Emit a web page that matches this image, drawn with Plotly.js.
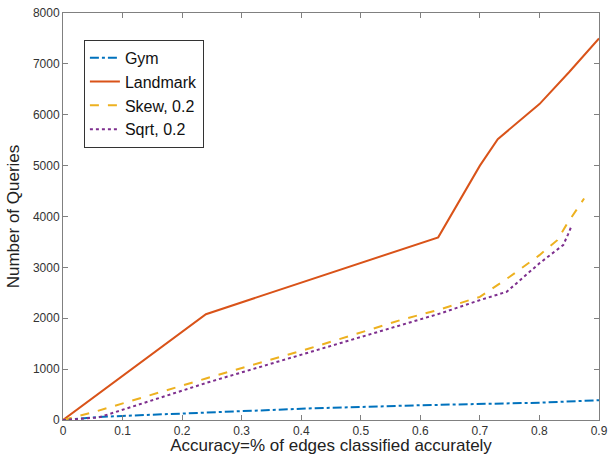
<!DOCTYPE html>
<html>
<head>
<meta charset="utf-8">
<script src="https://cdn.plot.ly/plotly-3.0.1.min.js"></script>
<style>html,body{margin:0;padding:0;background:#fff}#chart{width:611px;height:455px}</style>
</head>
<body>
<div id="chart"></div>
<script>
const gymX = [0, 0.06, 0.1, 0.24, 0.42, 0.6, 0.8, 0.9];
const gymY = [0, 60, 80, 150, 230, 290, 340, 390];

const landmarkX = [0, 0.24, 0.63, 0.7, 0.73, 0.8, 0.85, 0.9];
const landmarkY = [0, 2080, 3590, 5000, 5520, 6210, 6840, 7500];

const skewX = [0, 0.05, 0.24, 0.416, 0.567, 0.635, 0.7, 0.75, 0.8, 0.83, 0.845, 0.875];
const skewY = [0, 150, 816, 1414, 1965, 2180, 2420, 2815, 3240, 3535, 3830, 4355];

const sqrtX = [0, 0.06, 0.24, 0.416, 0.567, 0.635, 0.7, 0.745, 0.8, 0.84, 0.848, 0.853];
const sqrtY = [0, 50, 727, 1343, 1866, 2100, 2357, 2520, 3080, 3440, 3650, 3790];

const xTicks = [0, 0.1, 0.2, 0.3, 0.4, 0.5, 0.6, 0.7, 0.8, 0.9];
const xTickText = ["0", "0.1", "0.2", "0.3", "0.4", "0.5", "0.6", "0.7", "0.8", "0.9"];
const yTicks = [0, 1000, 2000, 3000, 4000, 5000, 6000, 7000, 8000];

const traces = [
  {x: gymX, y: gymY, name: "Gym", mode: "lines", line: {color: "#0072BD", width: 2, dash: "dashdot"}},
  {x: landmarkX, y: landmarkY, name: "Landmark", mode: "lines", line: {color: "#D95319", width: 2}},
  {x: skewX, y: skewY, name: "Skew, 0.2", mode: "lines", line: {color: "#EDB120", width: 2, dash: "dash"}},
  {x: sqrtX, y: sqrtY, name: "Sqrt, 0.2", mode: "lines", line: {color: "#7E2F8E", width: 2, dash: "dot"}}
];

const axisCommon = {
  showgrid: false, zeroline: false, showline: true, linecolor: "#808080", linewidth: 1,
  mirror: "ticks", ticks: "inside", ticklen: 5, tickcolor: "#808080",
  tickfont: {family: "Liberation Sans, Arial, sans-serif", size: 12, color: "#333"}
};

const layout = {
  width: 611, height: 455,
  margin: {l: 63, r: 12, t: 13, b: 35},
  paper_bgcolor: "#fff", plot_bgcolor: "#fff",
  showlegend: true,
  legend: {
    x: 0.039, y: 0.934, xanchor: "left", yanchor: "top",
    bgcolor: "#fff", bordercolor: "#333", borderwidth: 1,
    font: {family: "Liberation Sans, Arial, sans-serif", size: 16, color: "#111"},
    tracegroupgap: 0, itemwidth: 30
  },
  xaxis: Object.assign({}, axisCommon, {
    range: [0, 0.9], tickvals: xTicks, ticktext: xTickText,
    title: {text: "Accuracy=% of edges classified accurately", standoff: 2,
            font: {family: "Liberation Sans, Arial, sans-serif", size: 17, color: "#222"}}
  }),
  yaxis: Object.assign({}, axisCommon, {
    range: [0, 8000], tickvals: yTicks,
    title: {text: "Number of Queries", standoff: 8,
            font: {family: "Liberation Sans, Arial, sans-serif", size: 17, color: "#222"}}
  })
};

Plotly.newPlot("chart", traces, layout, {staticPlot: true, displayModeBar: false});
</script>
</body>
</html>
